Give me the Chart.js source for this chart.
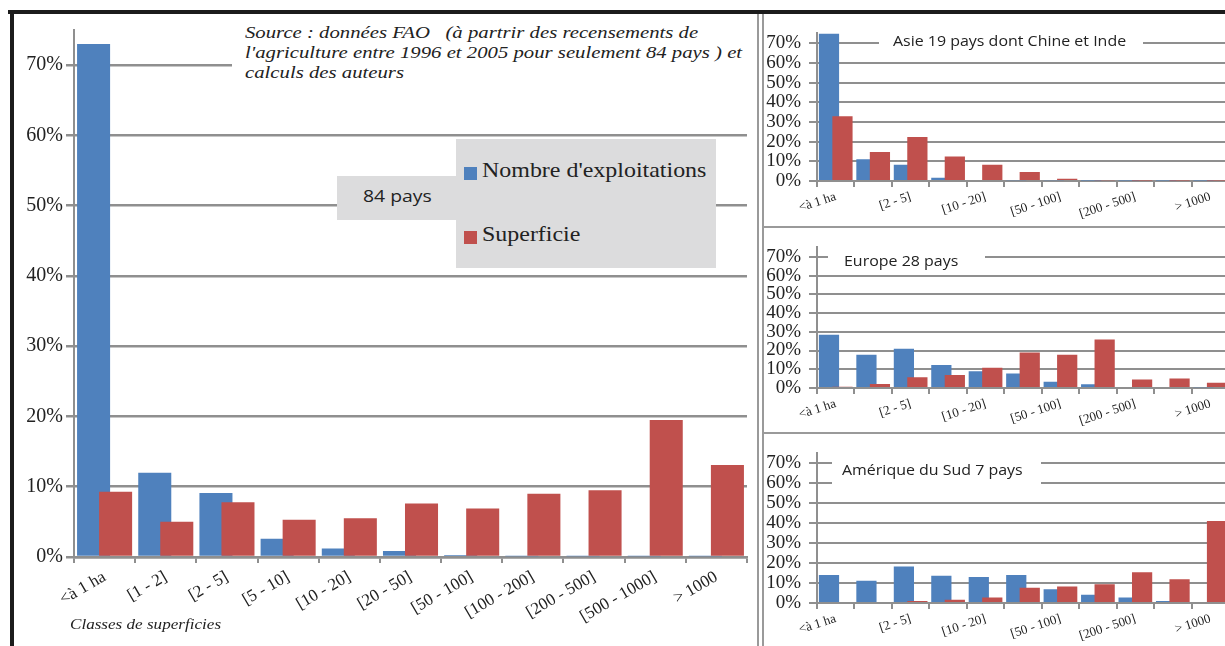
<!DOCTYPE html>
<html>
<head>
<meta charset="utf-8">
<script src="https://cdn.jsdelivr.net/npm/chart.js@4.4.1/dist/chart.umd.min.js"></script>
<style>
	body { margin: 0; width: 1225px; height: 646px; overflow: hidden; background: #fff; position: relative; font-family: 'Liberation Serif', serif; color: #222; }
	.abs { position: absolute; }
	.line { position: absolute; background: #9a9a9a; }
	.panel { position: absolute; overflow: hidden; }
	.large { transform: scaleX(1.14); transform-origin: 0 0; white-space: nowrap; }
	.titre { position: absolute; background: #fff; font-family: 'Open Sans', sans-serif; font-size: 14px; z-index: 2; }
</style>
</head>
<body>

<!-- cadres -->
<div class="abs" style="left:8px;top:10px;width:1217px;height:4px;background:#1c1c1c"></div>
<div class="abs" style="left:10px;top:10px;width:4px;height:636px;background:#1c1c1c"></div>
<div class="line" style="left:757px;top:14px;width:2px;height:632px"></div>
<div class="line" style="left:762px;top:14px;width:2px;height:632px"></div>
<div class="line" style="left:762px;top:226px;width:463px;height:2px"></div>
<div class="line" style="left:762px;top:432px;width:463px;height:2px"></div>

<!-- graphique principal -->
<div class="panel" style="left:14px;top:14px;width:743px;height:632px"><canvas id="monde" width="743" height="632"></canvas></div>

<div class="abs" style="left:232px;top:20px;width:520px;height:64px;background:#fff"></div>
<div class="abs large" style="left:245px;top:23px;font-style:italic;font-size:17px;line-height:20px;transform:scaleX(1.22)">
	Source : données FAO &nbsp; (à partrir des recensements de<br>l'agriculture entre 1996 et 2005 pour seulement 84 pays ) et<br>calculs des auteurs
</div>

<div class="abs" style="left:456px;top:139px;width:260px;height:129px;background:#dcdcdd"></div>
<div class="abs" style="left:337px;top:176px;width:119px;height:44px;background:#dcdcdd"></div>
<div class="abs large" style="left:363px;top:184px;font-family:'Open Sans',sans-serif;font-size:17px;line-height:24px">84 pays</div>
<div class="abs" style="left:464px;top:167px;width:13px;height:13px;background:#4f81bd"></div>
<div class="abs large" style="left:482px;top:158px;font-size:21px">Nombre d'exploitations</div>
<div class="abs" style="left:464px;top:231px;width:13px;height:13px;background:#c0504d"></div>
<div class="abs large" style="left:482px;top:222px;font-size:21px">Superficie</div>

<div class="abs large" style="left:70px;top:616px;font-style:italic;font-size:15px">Classes de superficies</div>

<!-- petits graphiques -->
<div class="panel" style="left:763px;top:14px;width:462px;height:212px"><canvas id="asie" width="470" height="212"></canvas></div>
<div class="titre" style="left:879px;top:25px;width:264px;height:30px"><div class="large" style="margin:6px 0 0 14px">Asie 19 pays dont Chine et Inde</div></div>

<div class="panel" style="left:763px;top:228px;width:462px;height:204px"><canvas id="europe" width="470" height="204"></canvas></div>
<div class="titre" style="left:828px;top:240px;width:157px;height:30px"><div class="large" style="margin:11px 0 0 16px">Europe 28 pays</div></div>

<div class="panel" style="left:763px;top:434px;width:462px;height:212px"><canvas id="amerique" width="470" height="212"></canvas></div>
<div class="titre" style="left:832px;top:460px;width:209px;height:26px"><div class="large" style="margin:0 0 0 10px">Amérique du Sud 7 pays</div></div>

<script>
// classes de superficie (ha)
var classes = ['<à 1 ha', '[1 - 2]', '[2 - 5]', '[5 - 10]', '[10 - 20]', '[20 - 50]', '[50 - 100]', '[100 - 200]', '[200 - 500]', '[500 - 1000]', '> 1000'];

// parts en %
var mondeExploitations = [73.0, 12.0, 9.1, 2.6, 1.2, 0.85, 0.3, 0.1, 0.1, 0.1, 0.1];
var mondeSuperficie = [9.3, 5.0, 7.8, 5.3, 5.5, 7.6, 6.9, 9.0, 9.5, 19.5, 13.1];

var asieExploitations = [75, 11.1, 8.2, 1.7, 0.5, 0.4, 0.4, 0.3, 0.2, 0.2, 0.2];
var asieSuperficie = [32.9, 14.7, 22.4, 12.4, 8.2, 4.6, 1.2, 0.4, 0.3, 0.3, 0.3];

var europeExploitations = [28.4, 17.7, 21.0, 12.3, 9.0, 7.7, 3.4, 2.0, 0.6, 0.5, 0.4];
var europeSuperficie = [0.7, 2.1, 5.7, 7.0, 10.8, 19.0, 17.7, 25.9, 4.6, 5.1, 2.8];

var ameriqueExploitations = [14.1, 11.1, 18.3, 13.6, 13.0, 14.1, 6.9, 4.1, 2.8, 1.0, 0.5];
var ameriqueSuperficie = [0.5, 0.5, 1.0, 1.6, 2.8, 7.7, 8.3, 9.4, 15.4, 11.9, 41.1];

var BLEU = '#4f81bd', ROUGE = '#c0504d', GRIS = '#8f8f8f';

// les barres se chevauchent : la superficie (rouge) est dessinee par-dessus
var rougeDessus = {
	id: 'rougeDessus',
	beforeDatasetDraw: function(chart, args) {
		if (args.index === 1) return false;
	},
	afterDatasetsDraw: function(chart) {
		var a = chart.chartArea, ctx = chart.ctx;
		ctx.save();
		ctx.beginPath();
		ctx.rect(a.left, a.top, a.right - a.left, a.bottom - a.top);
		ctx.clip();
		chart.getDatasetMeta(1).controller.draw();
		ctx.restore();
	}
};

function graphique(id, bleu, rouge, o) {
	return new Chart(document.getElementById(id), {
		type: 'bar',
		data: {
			labels: classes,
			datasets: [
				{ label: "Nombre d'exploitations", data: bleu, backgroundColor: BLEU },
				{ label: 'Superficie', data: rouge, backgroundColor: ROUGE }
			]
		},
		options: {
			responsive: false,
			animation: false,
			categoryPercentage: 0.72,
			barPercentage: 1.5,
			layout: { padding: { top: o.padTop, right: o.padRight, left: 0, bottom: 0 } },
			plugins: { legend: { display: false }, tooltip: { enabled: false } },
			scales: {
				x: {
					afterFit: function(s) { s.height = o.xHeight; },
					grid: { offset: true, drawOnChartArea: false, drawTicks: true, tickLength: 6, color: GRIS, lineWidth: 2 },
					border: { display: true, color: GRIS, width: o.gridWidth },
					ticks: {
						autoSkip: false,
						minRotation: o.rotation,
						maxRotation: o.rotation,
						padding: o.xPadding,
						color: '#222',
						font: { family: 'Liberation Serif', size: o.xFont },
						callback: function(v, i) { return (i % o.every === 0) ? classes[i] : ''; }
					}
				},
				y: {
					min: 0,
					max: 75,
					afterFit: function(s) { s.width = o.yWidth; },
					grid: { color: GRIS, lineWidth: o.gridWidth, tickLength: 8 },
					border: { display: true, color: GRIS, width: 2 },
					ticks: {
						stepSize: 10,
						autoSkip: false,
						includeBounds: false,
						padding: o.yPadding,
						color: '#222',
						font: { family: 'Liberation Serif', size: o.yFont },
						callback: function(v) { return v + '%'; }
					}
				}
			}
		},
		plugins: [rougeDessus]
	});
}

graphique('monde', mondeExploitations, mondeSuperficie,
	{ padTop: 16, padRight: 10, xHeight: 89, yWidth: 60, rotation: 30, xFont: 17, xPadding: 4, yFont: 20, yPadding: 3, every: 1, gridWidth: 2.5 });
graphique('asie', asieExploitations, asieSuperficie,
	{ padTop: 6, padRight: 4, xHeight: 45, yWidth: 54, rotation: 18, xFont: 13, xPadding: 2, yFont: 19, yPadding: 8, every: 2, gridWidth: 2 });
graphique('europe', europeExploitations, europeSuperficie,
	{ padTop: 6, padRight: 4, xHeight: 44, yWidth: 54, rotation: 18, xFont: 13, xPadding: 2, yFont: 19, yPadding: 8, every: 2, gridWidth: 2 });
graphique('amerique', ameriqueExploitations, ameriqueSuperficie,
	{ padTop: 9, padRight: 4, xHeight: 43, yWidth: 54, rotation: 18, xFont: 13, xPadding: 2, yFont: 19, yPadding: 8, every: 2, gridWidth: 2 });
</script>
</body>
</html>
